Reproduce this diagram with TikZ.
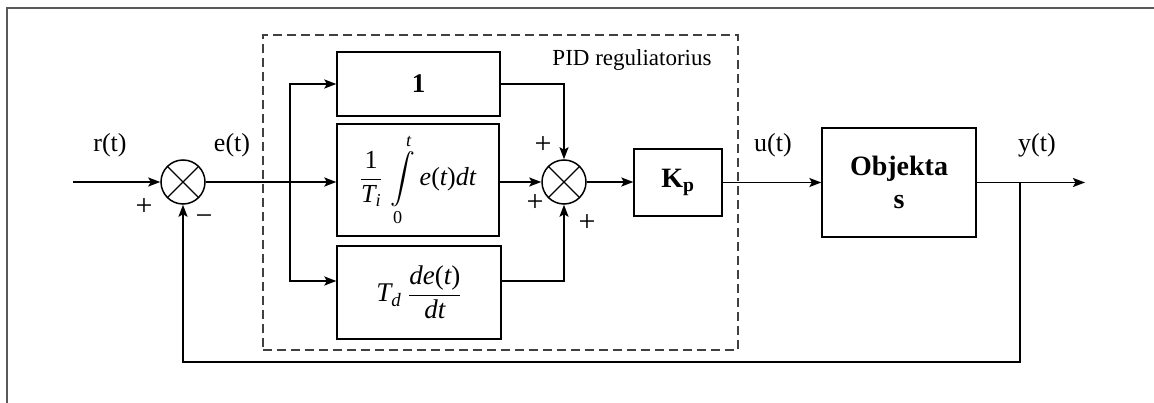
\documentclass[tikz,border=0pt]{standalone}
\usepackage{amsmath}
\usepackage{fontspec}
\setmainfont{Liberation Serif}
\usetikzlibrary{arrows.meta,calc}
\newcommand{\vi}[1]{\textit{#1}}
\newcommand{\txt}[1]{\text{#1}}
\begin{document}
\begin{tikzpicture}[x=1pt,y=-1pt,
  blk/.style={draw, line width=1.3pt, inner sep=0pt},
  sig/.style={line width=1.8pt, -{Stealth[length=12pt,width=9pt,inset=2.5pt]}},
  wire/.style={line width=1.8pt},
  sumnode/.style={circle, draw, line width=1.5pt, minimum size=44pt, inner sep=0pt,
    path picture={\draw[line width=1.3pt] (path picture bounding box.north west) -- (path picture bounding box.south east)
      (path picture bounding box.north east) -- (path picture bounding box.south west);}},
  lbl/.style={font=\fontsize{26}{30}\selectfont, inner sep=0pt},
  sgn/.style={font=\fontsize{30}{34}\selectfont, inner sep=0pt},
  frm/.style={font=\fontsize{26}{30}\selectfont, inner sep=0pt}
]
\useasboundingbox (0,0) rectangle (1154,403);
% outer frame
\draw[black!65, line width=2pt] (7,403) -- (7,8) -- (1154,8);
% dashed PID box
\node[draw=black!75, line width=1.3pt, dash pattern=on 9pt off 5pt, minimum width=475pt, minimum height=315pt, inner sep=0pt] (pid) at (500.5,192.5) {};
\node[font=\fontsize{23}{26}\selectfont, inner sep=0pt] (pidl) at (632,60) {PID reguliatorius};

% summing junctions
\node[sumnode] (sum1) at (183,182) {};
\node[sumnode] (sum2) at (564,182) {};

% blocks
\node[blk, minimum width=163pt, minimum height=64pt, font=\fontsize{27}{30}\selectfont\bfseries] (box1) at (418.5,84) {1};
\node[blk, minimum width=162pt, minimum height=112pt, frm] (box2) at (418,180)
  {$\displaystyle\dfrac{\txt{1}}{\vi{T}_{\vi{i}}}\,\int\limits_{\txt{0}}^{\vi{t}}\vi{e}\txt{(}\vi{t}\txt{)}\vi{dt}$};
\node[blk, minimum width=164pt, minimum height=93pt, frm, font=\fontsize{27}{30}\selectfont] (box3) at (419,292.5)
  {$\vi{T}_{\vi{d}}\;\dfrac{\vi{de}\txt{(}\vi{t}\txt{)}}{\vi{dt}}$};
\node[blk, minimum width=88pt, minimum height=67pt, font=\fontsize{28}{30}\selectfont] (kp) at (678,182.5)
  {$\textbf{K}_{\textbf{p}}$};
\node[blk, minimum width=154pt, minimum height=109pt, align=center, font=\fontsize{28}{33}\selectfont\bfseries] (obj) at (899,182.5)
  {Objekta\\s};

% coordinates
\coordinate (in) at (73,182);
\coordinate (br) at (290,182);
\coordinate (fb) at (1020,182.5);
\coordinate (fbb) at (1020,362);
\coordinate (out) at (1085,182.5);

% connectors
\draw[sig] (in) -- (sum1.west);
\draw[wire] (sum1.east) -- (br);
\draw[sig] (br) -- (sum1 -| box2.west);
\draw[sig] (br) |- (box1.west);
\draw[sig] (br) |- ([yshift=11.5pt]box3.west);
\draw[sig] (box1.east) -| (sum2.north);
\draw[sig] (sum1 -| box2.east) -- (sum2.west);
\draw[sig] ([yshift=11.5pt]box3.east) -| (sum2.south);
\draw[sig] (sum2.east) -- (kp.west |- sum2);
\draw[sig] (kp.east) -- (obj.west);
\draw[sig] (obj.east) -- (out);
\draw[sig, line width=2pt] (fb) -- (fbb) -| (sum1.south);

% signal labels
\node[lbl] (rl) at (110,145) {r(t)};
\node[lbl] (el) at (232,145) {e(t)};
\node[lbl] (ul) at (773,145) {u(t)};
\node[lbl] (yl) at (1037,145) {y(t)};

% signs
\node[sgn] (p1) at (144,207) {+};
\node[sgn] (m1) at (204,220) {\char"2212};
\node[sgn] (p2) at (543,145) {+};
\node[sgn] (p3) at (535,203) {+};
\node[sgn] (p4) at (587,223) {+};
\end{tikzpicture}
\end{document}
